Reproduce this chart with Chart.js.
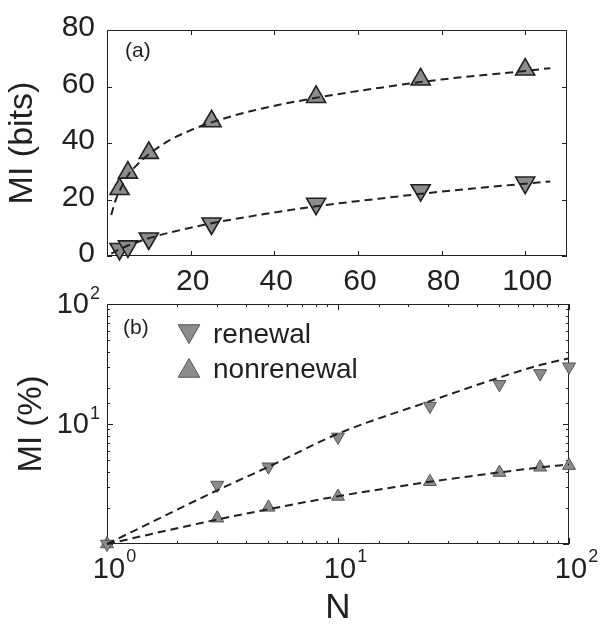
<!DOCTYPE html>
<html>
<head>
<meta charset="utf-8">
<script src="https://cdn.jsdelivr.net/npm/chart.js@4.4.1/dist/chart.umd.min.js"></script>
<style>
  html, body { margin: 0; padding: 0; background: #fff; }
  #wrap { position: relative; width: 602px; height: 629px; }
  #graficoA { position: absolute; left: 0; top: 0; }
  #graficoB { position: absolute; left: 0; top: 280px; }
</style>
</head>
<body>
<div id="wrap">
  <canvas id="graficoA" width="602" height="295"></canvas>
  <canvas id="graficoB" width="602" height="349"></canvas>
</div>
<script>
// ===== dados painel (a) =====
const nA = [3, 5, 10, 25, 50, 75, 100];
const bitsNonrenewal = [23.7, 29.5, 36.5, 47.7, 56.3, 62.5, 66];
const bitsRenewal = [2.5, 3.4, 6.2, 11.5, 18.5, 23.3, 26];
// curvas tracejadas
const nFitA = [1, 2, 3, 5, 7, 10, 15, 20, 25, 35, 50, 65, 80, 100, 106];
const fitBitsNonrenewal = [14.5, 19.5, 23, 28.5, 32, 36, 41, 44.5, 47.3, 51.5, 56, 59.5, 62.5, 65.5, 66.5];
const fitBitsRenewal = [0.8, 1.6, 2.4, 3.7, 4.8, 6.3, 8.3, 10, 11.6, 14.2, 17.6, 20.3, 22.8, 25.6, 26.4];
const ticksXA = [20, 40, 60, 80, 100];
const ticksYA = [0, 20, 40, 60, 80];

// ===== dados painel (b) =====
const nB = [1, 3, 5, 10, 25, 50, 75, 100];
const pctRenewal = [1, 3.1, 4.4, 7.8, 14.1, 21.4, 26.4, 30];
const pctNonrenewal = [1, 1.64, 2.02, 2.49, 3.3, 3.94, 4.36, 4.5];
const nFitB = [1, 3, 5, 10, 25, 50, 75, 100];
const fitPctRenewal = [1, 2.8, 4.4, 8.3, 15.5, 24.4, 31, 35.3];
const fitPctNonrenewal = [1, 1.6, 1.95, 2.5, 3.3, 3.95, 4.35, 4.6];
const expoentesXB = [0, 1, 2];
const expoentesYB = [1, 2];

const COR = '#231f20';
const CINZA = '#8c8c8c';
const FONTE = '"Liberation Sans", Arial, Helvetica, sans-serif';

function pares(xs, ys) {
    return xs.map(function(x, i) { return { x: x, y: ys[i] }; });
}

// caixa + ticks para dentro (em baixo/cima e esquerda/direita)
const molduraPlugin = {
    id: 'moldura',
    beforeDatasetsDraw: function(chart, args, opts) {
        const ctx = chart.ctx, a = chart.chartArea;
        ctx.save();
        ctx.strokeStyle = COR;
        ctx.lineWidth = 1;
        ctx.strokeRect(a.left + 0.5, a.top + 0.5, a.right - a.left - 1, a.bottom - a.top - 1);
        ['x', 'y'].forEach(function(id) {
            const s = chart.scales[id];
            s.ticks.forEach(function(t) {
                const lg = Math.log10(t.value);
                const maior = s.type !== 'logarithmic' || Math.abs(lg - Math.round(lg)) < 1e-6;
                const len = maior ? opts.maior : opts.menor;
                const p = Math.round(s.getPixelForValue(t.value)) + 0.5;
                ctx.beginPath();
                if (id === 'x') {
                    ctx.moveTo(p, a.bottom); ctx.lineTo(p, a.bottom - len);
                    ctx.moveTo(p, a.top); ctx.lineTo(p, a.top + len);
                } else {
                    ctx.moveTo(a.left, p); ctx.lineTo(a.left + len, p);
                    ctx.moveTo(a.right, p); ctx.lineTo(a.right - len, p);
                }
                ctx.stroke();
            });
        });
        ctx.restore();
    }
};

// rotulos 10^n do painel log
const rotulosLogPlugin = {
    id: 'rotulosLog',
    afterDraw: function(chart, args, opts) {
        if (!opts.expX) return;
        const ctx = chart.ctx, a = chart.chartArea;
        const fBase = '29px ' + FONTE, fSup = '18px ' + FONTE;
        ctx.save();
        ctx.fillStyle = COR;
        ctx.textBaseline = 'alphabetic';
        opts.expX.forEach(function(e) {
            const px = chart.scales.x.getPixelForValue(Math.pow(10, e)) + 2;
            ctx.font = fBase;
            ctx.textAlign = 'center';
            const w = ctx.measureText('10').width;
            ctx.fillText('10', px, a.bottom + 34);
            ctx.font = fSup;
            ctx.textAlign = 'left';
            ctx.fillText(String(e), px + w / 2 + 1, a.bottom + 18);
        });
        opts.expY.forEach(function(e) {
            const py = chart.scales.y.getPixelForValue(Math.pow(10, e));
            const xd = a.left - 7;
            ctx.font = fSup;
            ctx.textAlign = 'right';
            const ws = ctx.measureText(String(e)).width;
            ctx.fillText(String(e), xd, py - 5);
            ctx.font = fBase;
            ctx.fillText('10', xd - ws - 1, py + 9);
        });
        ctx.restore();
    }
};

function triangulo(ctx, x, y, r, paraBaixo) {
    const s = paraBaixo ? -1 : 1;
    ctx.beginPath();
    ctx.moveTo(x, y - s * r);
    ctx.lineTo(x + r * Math.sqrt(3) / 2, y + s * r / 2);
    ctx.lineTo(x - r * Math.sqrt(3) / 2, y + s * r / 2);
    ctx.closePath();
    ctx.fill();
    ctx.stroke();
}

// "(a)" / "(b)" e a legenda
const anotacaoPlugin = {
    id: 'anotacao',
    afterDraw: function(chart, args, opts) {
        const ctx = chart.ctx;
        ctx.save();
        ctx.fillStyle = COR;
        ctx.font = '21px ' + FONTE;
        ctx.textAlign = 'left';
        ctx.textBaseline = 'middle';
        ctx.fillText(opts.texto, opts.x, opts.y);
        if (opts.legenda) {
            chart.data.datasets.filter(function(d) { return d.naLegenda; }).forEach(function(d, i) {
                const item = opts.legenda[i];
                ctx.fillStyle = CINZA;
                ctx.strokeStyle = '#555555';
                ctx.lineWidth = 1;
                triangulo(ctx, item.mx, item.my, 12.5, d.pointRotation === 180);
                ctx.fillStyle = COR;
                ctx.font = '28px ' + FONTE;
                ctx.textBaseline = 'alphabetic';
                ctx.fillText(d.label, item.tx, item.ty);
            });
        }
        ctx.restore();
    }
};

function linhaAjuste(label, dados) {
    return {
        label: label, data: dados, showLine: true, borderColor: COR, borderWidth: 2,
        borderDash: [8, 5], pointRadius: 0, cubicInterpolationMode: 'monotone', clip: false
    };
}

function marcadores(label, dados, raio, baixo, borda, largBorda) {
    return {
        label: label, data: dados, showLine: false, pointStyle: 'triangle',
        pointRadius: raio, pointRotation: baixo ? 180 : 0,
        backgroundColor: CINZA, borderColor: borda, pointBorderWidth: largBorda, clip: false
    };
}

const fonteTicks = { family: FONTE, size: 30 };

// ===== painel (a) =====
new Chart(document.getElementById('graficoA'), {
    type: 'scatter',
    data: {
        datasets: [
            linhaAjuste('fit nonrenewal', pares(nFitA, fitBitsNonrenewal)),
            linhaAjuste('fit renewal', pares(nFitA, fitBitsRenewal)),
            marcadores('nonrenewal', pares(nA, bitsNonrenewal), 11, false, COR, 1.6),
            marcadores('renewal', pares(nA, bitsRenewal), 11, true, COR, 1.6)
        ]
    },
    options: {
        responsive: false,
        animation: false,
        events: [],
        layout: { padding: { top: 23, right: 35, left: 0, bottom: 0 } },
        plugins: {
            legend: { display: false },
            tooltip: { enabled: false },
            moldura: { maior: 5, menor: 3 },
            anotacao: { texto: '(a)', x: 125, y: 51 }
        },
        scales: {
            x: {
                type: 'linear', min: 0, max: 110,
                afterFit: function(s) { s.height = 39; },
                grid: { display: false, drawTicks: false },
                border: { display: false },
                ticks: {
                    stepSize: 20, includeBounds: false, autoSkip: false, maxRotation: 0,
                    padding: 8, labelOffset: 2, font: fonteTicks, color: COR,
                    callback: function(v) { return ticksXA.includes(v) ? v : ''; }
                }
            },
            y: {
                type: 'linear', min: 0, max: 80,
                afterFit: function(s) { s.width = 107; },
                grid: { display: false, drawTicks: false },
                border: { display: false },
                ticks: {
                    stepSize: 20, autoSkip: false, padding: 12, labelOffset: -2,
                    font: fonteTicks, color: COR,
                    callback: function(v) { return ticksYA.includes(v) ? v : ''; }
                },
                title: {
                    display: true, text: 'MI (bits)', color: COR,
                    font: { family: FONTE, size: 34, lineHeight: 1 },
                    padding: { top: 6, bottom: 0 }
                }
            }
        }
    },
    plugins: [molduraPlugin, anotacaoPlugin]
});

// ===== painel (b) =====
const dsRenewalB = marcadores('renewal', pares(nB, pctRenewal), 7.5, true, '#555555', 1);
const dsNonrenewalB = marcadores('nonrenewal', pares(nB, pctNonrenewal), 7.5, false, '#555555', 1);
dsRenewalB.naLegenda = true;
dsNonrenewalB.naLegenda = true;

new Chart(document.getElementById('graficoB'), {
    type: 'scatter',
    data: {
        datasets: [
            linhaAjuste('fit renewal', pares(nFitB, fitPctRenewal)),
            linhaAjuste('fit nonrenewal', pares(nFitB, fitPctNonrenewal)),
            dsRenewalB,
            dsNonrenewalB
        ]
    },
    options: {
        responsive: false,
        animation: false,
        events: [],
        layout: { padding: { top: 24, right: 33, left: 0, bottom: 0 } },
        plugins: {
            legend: { display: false },
            tooltip: { enabled: false },
            moldura: { maior: 6, menor: 3 },
            rotulosLog: { expX: expoentesXB, expY: expoentesYB },
            anotacao: {
                texto: '(b)', x: 123, y: 48,
                legenda: [
                    { mx: 189, my: 51, tx: 213, ty: 63 },
                    { mx: 189, my: 91, tx: 213, ty: 98 }
                ]
            }
        },
        scales: {
            x: {
                type: 'logarithmic', min: 1, max: 100,
                afterFit: function(s) { s.height = 85; },
                grid: { display: false, drawTicks: false },
                border: { display: false },
                ticks: { display: false },
                title: {
                    display: true, text: 'N', color: COR,
                    font: { family: FONTE, size: 35, lineHeight: 1 },
                    padding: { top: 0, bottom: 3 }
                }
            },
            y: {
                type: 'logarithmic', min: 1, max: 100,
                afterFit: function(s) { s.width = 107; },
                grid: { display: false, drawTicks: false },
                border: { display: false },
                ticks: { display: false },
                title: {
                    display: true, text: 'MI (%)', color: COR,
                    font: { family: FONTE, size: 33, lineHeight: 1 },
                    padding: { top: 15, bottom: 0 }
                }
            }
        }
    },
    plugins: [molduraPlugin, rotulosLogPlugin, anotacaoPlugin]
});
</script>
</body>
</html>
